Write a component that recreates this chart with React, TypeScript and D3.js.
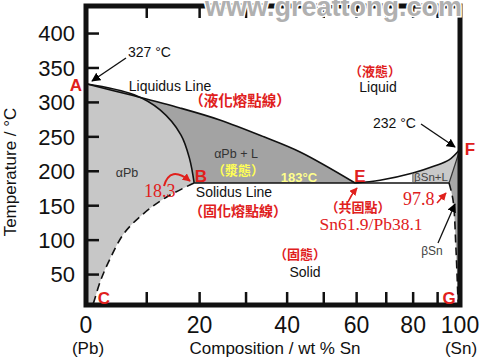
import React from "react";
import * as d3 from "d3";

// ---------- data (wt % Sn, °C) ----------
const xMinorTicks = [10, 20, 30, 40, 50, 60, 70, 80, 90];
const xTickLabels = [0, 20, 40, 60, 80, 100];
const yTickLabels = [50, 100, 150, 200, 250, 300, 350, 400];

const liquidusPb: [number, number][] = [
  [0, 327], [7.1, 311], [16.1, 292], [24.2, 274.5], [34.2, 250], [43.4, 228], [59.5, 183],
];
const solidusPb: [number, number][] = [
  [0, 327], [7.8, 311], [12.4, 289], [16.3, 253], [18.0, 218], [18.9, 183],
];
const solvusPb: [number, number][] = [
  [18.9, 183], [13.7, 163], [9.5, 139], [6.1, 110], [3.9, 75], [2.3, 42], [1.2, 10], [1.0, 5],
];
const liquidusSn: [number, number][] = [
  [59.5, 183], [67.8, 187], [79.9, 197.5], [88.9, 208], [95, 216.5], [100, 232],
];
const solidusSn: [number, number][] = [[100, 232], [95, 183]];
const solvusSn: [number, number][] = [[95, 183], [96.8, 158], [98.15, 86], [99.1, 13], [99.3, 5]];
const eutectic: [number, number][] = [[18.9, 183], [95, 183]];
const splitLine: [number, number][] = [[79.9, 183], [79.9, 197.5]];

// ---------- scales ----------
const SN = 118.71, PB = 207.2;
const atPct = (w: number) => { const s = w / SN, p = (100 - w) / PB; return (100 * s) / (s + p); };
const xs = d3.scaleLinear().domain([0, 100]).range([86, 460]);
const ys = d3.scaleLinear().domain([0, 440]).range([309, 6]);
const X = (w: number) => xs(atPct(w));
const Y = (t: number) => ys(t);

const curved = d3.curveCatmullRom;
const straight = d3.curveLinear;

function line(pts: [number, number][], curve: any = curved) {
  return d3.line<[number, number]>().x(d => X(d[0])).y(d => Y(d[1])).curve(curve)(pts) || "";
}

function joined(segs: { pts: [number, number][]; curve: any }[]) {
  const p = d3.path();
  let started = false;
  const ctx: any = {
    moveTo(a: number, b: number) { if (!started) { p.moveTo(a, b); started = true; } else p.lineTo(a, b); },
    lineTo(a: number, b: number) { p.lineTo(a, b); },
    bezierCurveTo(a: number, b: number, c: number, d: number, e: number, f: number) { p.bezierCurveTo(a, b, c, d, e, f); },
    quadraticCurveTo(a: number, b: number, c: number, d: number) { p.quadraticCurveTo(a, b, c, d); },
    closePath() {},
  };
  for (const s of segs) {
    d3.line<[number, number]>().x(d => X(d[0])).y(d => Y(d[1])).curve(s.curve).context(ctx)(s.pts);
  }
  p.closePath();
  return p.toString();
}

const rev = (a: [number, number][]) => a.slice().reverse();

const SANS = "'Liberation Sans', Arial, sans-serif";
const CJK = "'Noto Sans CJK TC', sans-serif";
const SERIF = "'Liberation Serif', serif";
const RED = "#e0201c";

export default function App() {
  const alphaRegion = joined([
    { pts: solidusPb, curve: curved },
    { pts: solvusPb, curve: curved },
    { pts: [[1.0, 5], [0, 5], [0, 327]], curve: straight },
  ]);
  const alphaL = joined([
    { pts: liquidusPb, curve: curved },
    { pts: [[59.5, 183], [18.9, 183]], curve: straight },
    { pts: rev(solidusPb), curve: curved },
  ]);
  const betaL = joined([
    { pts: liquidusSn, curve: curved },
    { pts: solidusSn, curve: straight },
    { pts: [[95, 183], [59.5, 183]], curve: straight },
  ]);
  const betaRegion = joined([
    { pts: solidusSn, curve: straight },
    { pts: solvusSn, curve: curved },
    { pts: [[99.3, 5], [100, 5], [100, 232]], curve: straight },
  ]);

  return (
    <svg width={480} height={360} style={{ position: "absolute", left: 0, top: 0, background: "#fff" }}>
      <defs>
        <marker id="ab" viewBox="0 0 10 10" refX="9" refY="5" markerWidth="9" markerHeight="9" markerUnits="userSpaceOnUse" orient="auto">
          <path d="M0,0 L10,5 L0,10 z" fill="#000" />
        </marker>
        <marker id="ar" viewBox="0 0 10 10" refX="9" refY="5" markerWidth="8" markerHeight="8" markerUnits="userSpaceOnUse" orient="auto">
          <path d="M0,0 L10,5 L0,10 z" fill={RED} />
        </marker>
        <clipPath id="betaClip">
          <rect x={X(79.9)} y={0} width={480} height={360} />
        </clipPath>
      </defs>
      <rect x={0} y={0} width={480} height={360} fill="#fff" />

      {/* regions */}
      <path d={alphaRegion} fill="#c7c7c7" />
      <path d={alphaL} fill="#a3a3a3" />
      <path d={betaL} fill="#c9c9c9" clipPath="url(#betaClip)" />
      <path d={betaRegion} fill="#a6a6a6" />

      {/* boundary lines */}
      <path d={line(liquidusPb)} fill="none" stroke="#111" strokeWidth={1.6} />
      <path d={line(solidusPb)} fill="none" stroke="#111" strokeWidth={1.6} />
      <path d={line(liquidusSn)} fill="none" stroke="#111" strokeWidth={1.6} />
      <path d={line(solidusSn, straight)} fill="none" stroke="#333" strokeWidth={1.2} />
      <path d={line(eutectic, straight)} fill="none" stroke="#111" strokeWidth={1.6} />
      <path d={line(splitLine, straight)} fill="none" stroke="#555" strokeWidth={1} />
      <path d={line(solvusPb)} fill="none" stroke="#111" strokeWidth={1.6} strokeDasharray="8,5" />
      <path d={line(solvusSn)} fill="none" stroke="#111" strokeWidth={1.6} strokeDasharray="8,5" />

      {/* frame */}
      <rect x={86} y={6} width={374} height={299} fill="none" stroke="#111" strokeWidth={5} />
      {yTickLabels.map(t => (
        <line key={"yt" + t} x1={86} x2={99} y1={Y(t)} y2={Y(t)} stroke="#111" strokeWidth={2.5} />
      ))}
      {xMinorTicks.map(w => (
        <g key={"xt" + w}>
          <line x1={X(w)} x2={X(w)} y1={305} y2={292} stroke="#111" strokeWidth={2.5} />
          <line x1={X(w)} x2={X(w)} y1={6} y2={18} stroke="#111" strokeWidth={2.5} />
        </g>
      ))}

      {/* axis labels */}
      {yTickLabels.map(t => (
        <text key={"yl" + t} x={75} y={Y(t)} dy="0.36em" textAnchor="end" fontFamily={SANS} fontSize={22} fill="#111">{t}</text>
      ))}
      {xTickLabels.map(w => (
        <text key={"xl" + w} x={X(w)} y={333} textAnchor="middle" fontFamily={SANS} fontSize={23} fill="#111">{w}</text>
      ))}
      <text x={88} y={354} textAnchor="middle" fontFamily={SANS} fontSize={17} fill="#111">(Pb)</text>
      <text x={461} y={354} textAnchor="middle" fontFamily={SANS} fontSize={17} fill="#111">(Sn)</text>
      <text x={275} y={354} textAnchor="middle" fontFamily={SANS} fontSize={17} fill="#111">Composition / wt % Sn</text>
      <text transform="translate(16,172) rotate(-90)" textAnchor="middle" fontFamily={SANS} fontSize={17} fill="#111">Temperature / °C</text>

      {/* black annotations */}
      <text x={128} y={57} fontFamily={SANS} fontSize={14} fill="#111">327 °C</text>
      <line x1={126} y1={58} x2={92} y2={81} stroke="#111" strokeWidth={1.4} markerEnd="url(#ab)" />
      <text x={373} y={128} fontFamily={SANS} fontSize={14} fill="#111">232 °C</text>
      <line x1={421} y1={124} x2={455} y2={147} stroke="#111" strokeWidth={1.4} markerEnd="url(#ab)" />
      <text x={170} y={91} textAnchor="middle" fontFamily={SANS} fontSize={14} fill="#111">Liquidus Line</text>
      <text x={234} y={197} textAnchor="middle" fontFamily={SANS} fontSize={14} fill="#111">Solidus Line</text>
      <text x={378} y={92} textAnchor="middle" fontFamily={SANS} fontSize={14} fill="#111">Liquid</text>
      <text x={305} y={277} textAnchor="middle" fontFamily={SANS} fontSize={14} fill="#111">Solid</text>
      <text x={127} y={177} textAnchor="middle" fontFamily={SANS} fontSize={12.5} fill="#333">αPb</text>
      <text x={236} y={158} textAnchor="middle" fontFamily={SANS} fontSize={12.5} fill="#333">αPb + L</text>
      <text x={431} y={181} textAnchor="middle" fontFamily={SANS} fontSize={11.5} fill="#444">βSn+L</text>
      <text x={432} y={255} textAnchor="middle" fontFamily={SANS} fontSize={12} fill="#444">βSn</text>
      <line x1={438} y1={243} x2={455} y2={204} stroke="#111" strokeWidth={1.3} markerEnd="url(#ab)" />

      {/* yellow labels */}
      <text x={238} y={175} textAnchor="middle" fontFamily={CJK} fontWeight="bold" fontSize={13} fill="#ffff55">（漿態）</text>
      <text x={299} y={182} textAnchor="middle" fontFamily={SANS} fontWeight="bold" fontSize={13} fill="#ffff8c">183°C</text>

      {/* red Chinese labels */}
      <text x={240} y={106} textAnchor="middle" fontFamily={CJK} fontWeight="bold" fontSize={14.5} fill={RED}>（液化熔點線）</text>
      <text x={238} y={216} textAnchor="middle" fontFamily={CJK} fontWeight="bold" fontSize={14} fill={RED}>（固化熔點線）</text>
      <text x={375} y={76} textAnchor="middle" fontFamily={CJK} fontWeight="bold" fontSize={13} fill={RED}>（液態）</text>
      <text x={358} y={212} textAnchor="middle" fontFamily={CJK} fontWeight="bold" fontSize={13} fill={RED}>（共固點）</text>
      <text x={300} y={259} textAnchor="middle" fontFamily={CJK} fontWeight="bold" fontSize={13} fill={RED}>（固態）</text>

      {/* red numbers */}
      <text x={144} y={197} fontFamily={SERIF} fontSize={18} fill={RED}>18.3</text>
      <path d="M164,186 Q170,165 190,181" fill="none" stroke={RED} strokeWidth={2} markerEnd="url(#ar)" />
      <text x={371} y={230} textAnchor="middle" fontFamily={SERIF} fontSize={17.5} fill={RED}>Sn61.9/Pb38.1</text>
      <path d="M348,202 Q351,195 357,188" fill="none" stroke={RED} strokeWidth={1.6} markerEnd="url(#ar)" />
      <text x={403} y={205} fontFamily={SERIF} fontSize={18} fill={RED}>97.8</text>
      <line x1={437} y1={203} x2={446} y2={193} stroke={RED} strokeWidth={1.6} markerEnd="url(#ar)" />

      {/* point letters */}
      {[
        ["A", 76, 91],
        ["B", 201, 182],
        ["C", 104, 304],
        ["E", 360, 182],
        ["F", 470, 155],
        ["G", 449, 304],
      ].map(([s, px, py]) => (
        <text key={s as string} x={px as number} y={py as number} textAnchor="middle" fontFamily={SANS} fontWeight="bold" fontSize={17} fill={RED}>{s}</text>
      ))}

      {/* watermark */}
      <text x={205} y={16} fontFamily={SANS} fontWeight="bold" fontSize={27} fill="#b0b0b0" stroke="#fff" strokeWidth={3} style={{ paintOrder: "stroke" } as any}>www.greattong.com</text>
    </svg>
  );
}
